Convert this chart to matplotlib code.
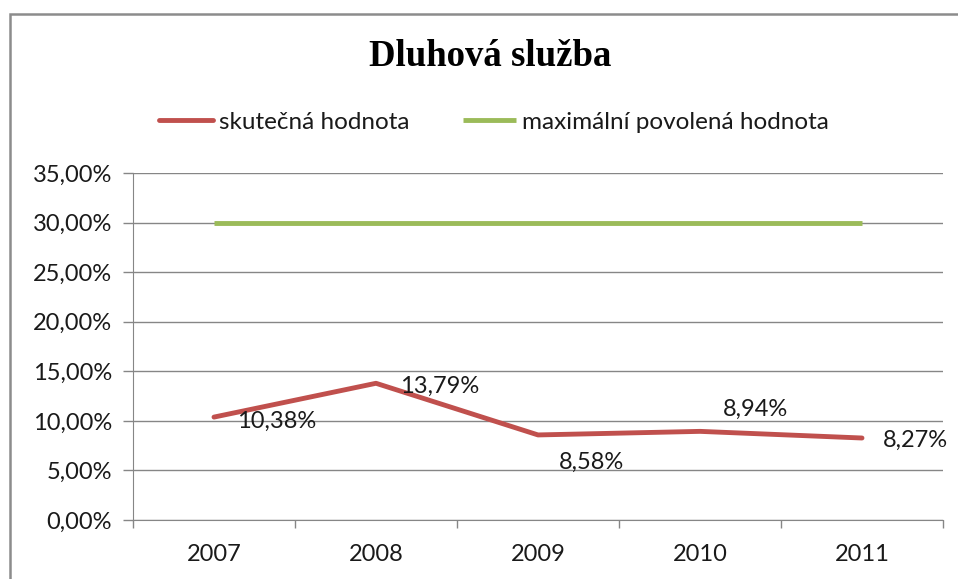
import matplotlib
matplotlib.use("Agg")
import matplotlib.pyplot as plt
from matplotlib.patches import Rectangle

years = ["2007", "2008", "2009", "2010", "2011"]
actual = [10.38, 13.79, 8.58, 8.94, 8.27]
maximum = [30.0, 30.0, 30.0, 30.0, 30.0]
label_texts = ["10,38%", "13,79%", "8,58%", "8,94%", "8,27%"]
yticks = [0, 5, 10, 15, 20, 25, 30, 35]

C_RED = "#C0504D"; C_GRN = "#9BBB59"; C_GRID = "#868686"; C_TXT = "#1a1a1a"
FONT = "Lato"; FS = 17

W, H = 958, 579
fig = plt.figure(figsize=(W / 100, H / 100), dpi=100)
fig.patch.set_facecolor("white")
# chart border (right/bottom fall outside the picture)
fig.add_artist(Rectangle((10 / W, -0.05), 1.0, 1 - 14 / H + 0.05, transform=fig.transFigure,
                         fill=False, ec="#8c8c8c", lw=1.8))

ax = fig.add_axes([133 / W, 1 - 520 / H, (943 - 133) / W, (520 - 173) / H])
x = list(range(len(years)))
ax.plot(x, actual, color=C_RED, lw=3.5, solid_capstyle="round", zorder=3, label="skutečná hodnota")
ax.plot(x, maximum, color=C_GRN, lw=3.5, solid_capstyle="butt", zorder=3, label="maximální povolená hodnota")

ax.set_xlim(-0.5, len(years) - 0.5)
ax.set_ylim(0, 35)
ax.set_yticks(yticks)
ax.set_yticklabels([f"{v:.2f}%".replace(".", ",") for v in yticks])
ax.set_xticks(x)
ax.set_xticklabels(years)
ax.set_xticks([i - 0.5 for i in range(len(years) + 1)], minor=True)
ax.tick_params(axis="x", which="major", length=0, pad=17)
ax.tick_params(axis="x", which="minor", length=6, color=C_GRID, width=1)
ax.tick_params(axis="y", length=7, color=C_GRID, width=1, pad=8)
for lab in ax.get_xticklabels() + ax.get_yticklabels():
    lab.set_fontfamily(FONT); lab.set_fontsize(FS); lab.set_color(C_TXT)
ax.grid(axis="y", color=C_GRID, lw=1)
ax.set_axisbelow(True)
for s in ["top", "right"]:
    ax.spines[s].set_visible(False)
ax.spines["left"].set_color(C_GRID)
ax.spines["bottom"].set_color(C_GRID)

# data labels (offsets in pixels, as placed in the original)
offsets = [(23, -4, "left"), (24, -3, "left"), (53, -27, "center"), (56, 22, "center"), (21, -2, "left")]
for xi, v, t, (dx, dy, ha) in zip(x, actual, label_texts, offsets):
    ax.annotate(t, (xi, v), xytext=(dx, dy), textcoords="offset pixels", ha=ha, va="center",
                fontsize=FS, family=FONT, color=C_TXT, zorder=4)

fig.text(490 / W, 1 - 57 / H, "Dluhová služba", ha="center", va="center",
         family="Liberation Serif", fontweight="bold", fontsize=26.5)
fig.legend(loc="center", bbox_to_anchor=(494 / W, 1 - 122 / H), ncol=2, frameon=False,
           prop={"family": FONT, "size": 17.5}, handlelength=2.2, handletextpad=0.25,
           columnspacing=2.2, labelcolor=C_TXT)

fig.savefig("out.png", dpi=100, facecolor="white")
